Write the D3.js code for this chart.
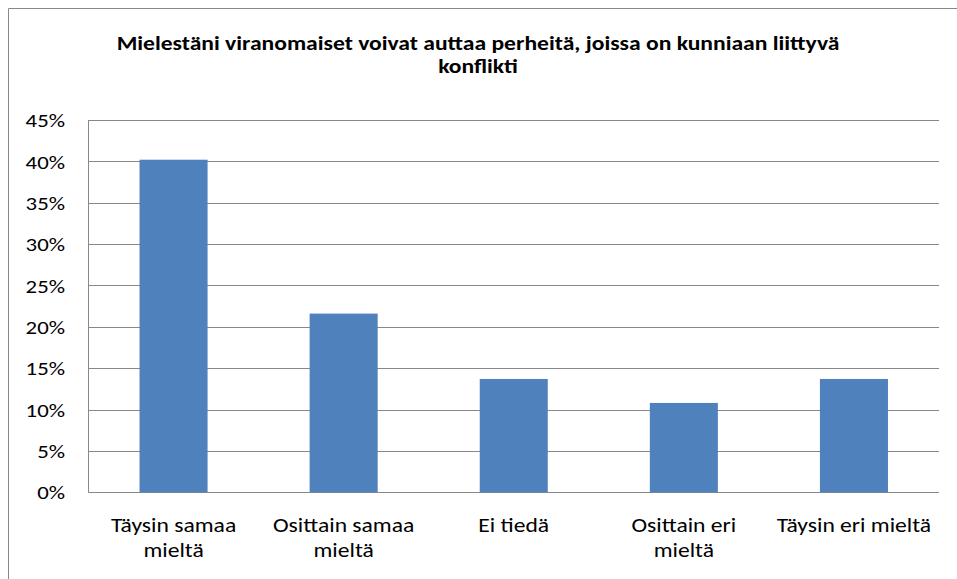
<!DOCTYPE html>
<meta charset="utf-8">
<style>
body { margin: 0; background: #fff; }
text { font-family: Calibri, Carlito, "Open Sans", sans-serif; fill: #000; }
.title { font-size: 20px; font-weight: bold; text-anchor: middle; }
.tick text { font-size: 19px; }
.cat { font-size: 20px; text-anchor: middle; }
</style>
<svg width="957" height="579"></svg>
<script src="https://d3js.org/d3.v7.min.js"></script>
<script>

var categories = ["Täysin samaa\nmieltä", "Osittain samaa\nmieltä", "Ei tiedä", "Osittain eri\nmieltä", "Täysin eri mieltä"];
var values = [0.402, 0.216, 0.137, 0.108, 0.137];
var yTicks = [0, 0.05, 0.10, 0.15, 0.20, 0.25, 0.30, 0.35, 0.40, 0.45];
var titleLines = ["Mielestäni viranomaiset voivat auttaa perheitä, joissa on kunniaan liittyvä", "konflikti"];

var svg = d3.select("svg"),
    plotLeft = 88.5, plotRight = 939, plotTop = 120, plotBottom = 492.3,
    stretch = 1.18; // the picture is a bit wider than tall, text is stretched with it

// outer chart border (only top and left edges fall inside the picture)
svg.append("path")
    .attr("d", "M8.5,579V8.5H957")
    .attr("fill", "none")
    .attr("stroke", "#888")
    .attr("stroke-width", 1);

svg.selectAll(".title")
  .data(titleLines)
  .enter().append("text")
    .attr("class", "title")
    .attr("transform", function(d, i) { return "translate(478," + (50 + i * 23) + ") scale(" + stretch + ",1)"; })
    .text(function(d) { return d; });

var x = d3.scaleBand()
    .domain(categories)
    .range([plotLeft, plotRight])
    .paddingInner(0.6)
    .paddingOuter(0.3);

var y = d3.scaleLinear()
    .domain([0, 0.45])
    .range([plotBottom, plotTop]);

// gridlines
svg.append("g")
    .selectAll("line")
    .data(yTicks)
  .enter().append("line")
    .attr("x1", plotLeft)
    .attr("x2", plotRight)
    .attr("y1", function(d) { return Math.round(y(d)) + 0.5; })
    .attr("y2", function(d) { return Math.round(y(d)) + 0.5; })
    .attr("stroke", "#888")
    .attr("stroke-width", 1);

svg.append("line")
    .attr("x1", plotLeft).attr("x2", plotLeft)
    .attr("y1", plotTop).attr("y2", Math.round(plotBottom) + 0.5)
    .attr("stroke", "#888");

var yAxis = svg.append("g")
    .attr("transform", "translate(" + plotLeft + ",0)")
    .call(d3.axisLeft(y).tickValues(yTicks).tickFormat(d3.format(".0%")).tickSize(0).tickPadding(23.5));
yAxis.select(".domain").remove();
yAxis.selectAll("text")
    .attr("x", -23.5 / 1.2)
    .attr("dy", "0.35em")
    .attr("transform", "scale(1.2,1)")
    .attr("font-family", null)
    .attr("font-size", null);

svg.append("g")
    .selectAll("rect")
    .data(values)
  .enter().append("rect")
    .attr("x", function(d, i) { return x(categories[i]); })
    .attr("width", x.bandwidth())
    .attr("y", function(d) { return y(d); })
    .attr("height", function(d) { return y(0) - y(d); })
    .attr("fill", "#4F81BD");

var cat = svg.append("g")
    .selectAll("text")
    .data(categories)
  .enter().append("text")
    .attr("class", "cat")
    .attr("transform", function(d) { return "translate(" + (x(d) + x.bandwidth() / 2) + ",532) scale(" + stretch + ",1)"; });

cat.selectAll("tspan")
    .data(function(d) { return d.split("\n"); })
  .enter().append("tspan")
    .attr("x", 0)
    .attr("dy", function(d, i) { return i ? 25 : 0; })
    .text(function(d) { return d; });

</script>
